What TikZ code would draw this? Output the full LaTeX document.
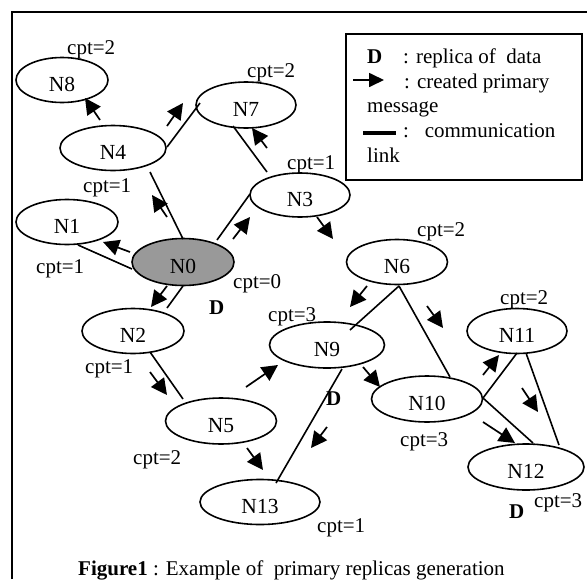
\documentclass[tikz,border=0pt]{standalone}
\usepackage{fontspec}
\setmainfont{Liberation Serif}
\usetikzlibrary{shapes.geometric,arrows.meta,calc}
\definecolor{nodegray}{RGB}{153,153,153}
\begin{document}
\begin{tikzpicture}[x=1pt,y=-1pt,
  nd/.style={draw,ellipse,line width=1.6pt,inner sep=0pt,text height=22pt,text depth=0pt,
    font=\fontsize{21.5}{25}\selectfont},
  lbl/.style={anchor=base west,inner sep=0pt,font=\fontsize{21}{25}\selectfont},
  link/.style={line width=1.6pt},
  msg/.style={line width=1.7pt,-{Triangle[length=16pt,width=16pt]}},
  legmsg/.style={line width=1.7pt,-{Triangle[length=15pt,width=14pt]}},
  frame/.style={line width=1.8pt}]
\useasboundingbox (0,0) rectangle (587,579);
% outer frame (top and left visible)
\coordinate (FL) at (12,579);
\coordinate (FC) at (12,12);
\coordinate (FR) at (587,12);
\draw[frame] (FL) -- (FC) -- (FR);

% nodes
\node[nd,minimum width=92pt,minimum height=45pt] (N8) at (62,80) {N8};
\node[nd,minimum width=100pt,minimum height=46pt] (N7) at (246,105) {N7};
\node[nd,minimum width=106pt,minimum height=45pt] (N4) at (113,148) {N4};
\node[nd,minimum width=100pt,minimum height=44pt] (N3) at (300,195) {N3};
\node[nd,minimum width=102pt,minimum height=45pt] (N1) at (67,222) {N1};
\node[nd,fill=nodegray,minimum width=102pt,minimum height=47pt] (N0) at (183,262) {N0};
\node[nd,minimum width=102pt,minimum height=45pt] (N2) at (133,331) {N2};
\node[nd,minimum width=101pt,minimum height=45pt] (N6) at (397,262) {N6};
\node[nd,minimum width=100pt,minimum height=45pt] (N11) at (517,331) {N11};
\node[nd,minimum width=115pt,minimum height=46pt] (N9) at (327,345) {N9};
\node[nd,minimum width=111pt,minimum height=46pt] (N5) at (221,421) {N5};
\node[nd,minimum width=111pt,minimum height=46pt] (N10) at (427,399) {N10};
\node[nd,minimum width=116pt,minimum height=46pt] (N12) at (526,467) {N12};
\node[nd,minimum width=120pt,minimum height=45pt] (N13) at (260,502) {N13};

% communication links
\draw[link] ($(N4)+(54,-1)$) -- ($(N7)+(-46,-2)$);
\draw[link] ($(N7)+(-13,21)$) -- ($(N3)+(-33,-23)$);
\draw[link] ($(N4)+(37,24)$) -- ($(N0)+(0,-23)$);
\draw[link] ($(N1)+(11,23)$) -- ($(N0)+(-51,7)$);
\draw[link] ($(N0)+(34,-22)$) -- ($(N3)+(-50,-1)$);
\draw[link] ($(N0)+(0,24)$) -- ($(N2)+(34,-23)$);
\draw[link] ($(N2)+(17,21)$) -- ($(N5)+(-38,-22)$);
\draw[link] ($(N6)+(2,24)$) -- ($(N9)+(23,-15)$);
\draw[link] ($(N6)+(2,24)$) -- ($(N10)+(23,-22)$);
\draw[link] ($(N9)+(15,24)$) -- ($(N13)+(16,-19)$);
\draw[link] ($(N10)+(56,-1)$) -- ($(N11)+(0,22)$);
\draw[link] ($(N10)+(56,-1)$) -- ($(N12)+(7,-24)$);
\draw[link] ($(N11)+(9,22)$) -- ($(N12)+(33,-22)$);

% created primary messages
\draw[msg] (100,120) -- (85,98);
\draw[msg] (167,126) -- (183,103);
\draw[msg] (267,148) -- (252,128);
\draw[msg] (167,217) -- (152,195);
\draw[msg] (130,252) -- (103,242);
\draw[msg] (233,239) -- (250,217);
\draw[msg] (167,286) -- (151,307);
\draw[msg] (317,217) -- (333,239);
\draw[msg] (367,286) -- (350,307);
\draw[msg] (427,306) -- (443,328);
\draw[msg] (150,372) -- (167,395);
\draw[msg] (246,387) -- (278,365);
\draw[msg] (363,367) -- (380,387);
\draw[msg] (327,427) -- (311,448);
\draw[msg] (247,448) -- (263,470);
\draw[msg] (483,375) -- (499,355);
\draw[msg] (522,388) -- (538,412);
\draw[msg] (483,422) -- (515,443);

% cpt labels
\node[lbl] (c8) at (67,54) {cpt=2};
\node[lbl] (c7) at (247,77) {cpt=2};
\node[lbl] (c4) at (83,192) {cpt=1};
\node[lbl] (c3) at (287,169) {cpt=1};
\node[lbl] (c1) at (36,273) {cpt=1};
\node[lbl] (c0) at (233,288) {cpt=0};
\node[lbl] (c2) at (85,373) {cpt=1};
\node[lbl] (c6) at (417,236) {cpt=2};
\node[lbl] (c9) at (268,321) {cpt=3};
\node[lbl] (c11) at (500,304) {cpt=2};
\node[lbl] (c10) at (400,446) {cpt=3};
\node[lbl] (c5) at (133,464) {cpt=2};
\node[lbl] (c13) at (317,532) {cpt=1};
\node[lbl] (c12) at (534,507) {cpt=3};
% replicas
\node[lbl,font=\fontsize{21}{25}\selectfont\bfseries] (d0) at (209,314) {D};
\node[lbl,font=\fontsize{21}{25}\selectfont\bfseries] (d9) at (326,405) {D};
\node[lbl,font=\fontsize{21}{25}\selectfont\bfseries] (d12) at (509,518) {D};

% legend
\node[draw,line width=1.3pt,minimum width=236pt,minimum height=146pt,inner sep=0pt] (legend) at (464,107) {};
\node[lbl,font=\fontsize{21}{25}\selectfont\bfseries] (lD) at (367,63) {D};
\node[lbl] (lDt) at (403,63) {: replica of\ \ data};
\coordinate (la1) at (353,80);
\coordinate (la2) at (384,80);
\draw[legmsg] (la1) -- (la2);
\node[lbl] (lAt) at (404,88) {: created primary};
\node[lbl] (lAt2) at (367,112) {message};
\coordinate (ll1) at (363,133);
\coordinate (ll2) at (396,133);
\draw[line width=4.5pt] (ll1) -- (ll2);
\node[lbl] (lLt) at (403,137) {:\ \ \ communication};
\node[lbl] (lLt2) at (367,162) {link};

% caption
\node[lbl] (cap) at (78,575) {\textbf{Figure1} : Example of\ \ primary replicas generation};
\end{tikzpicture}
\end{document}
